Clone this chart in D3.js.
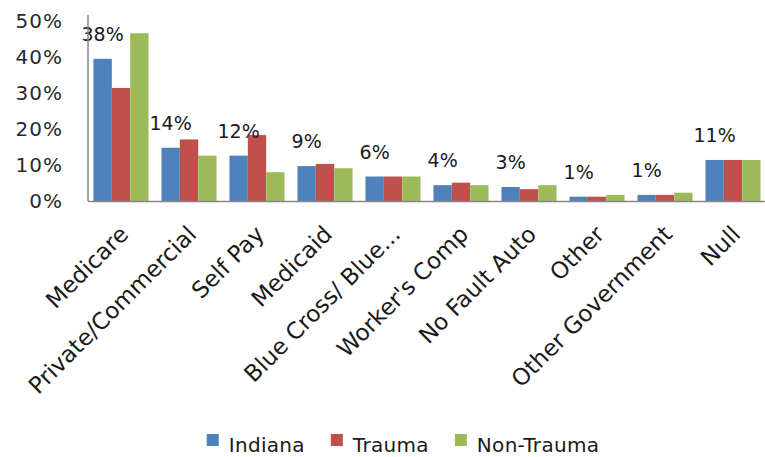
<!DOCTYPE html>
<html>
<head>
<meta charset="utf-8">
<script src="https://d3js.org/d3.v7.min.js"></script>
<style>
  body { margin: 0; background: #fff; }
  svg { display: block; }
</style>
</head>
<body>
<svg id="chart"></svg>
<script>
// categories along the x-axis
var categories = ["Medicare", "Private/Commercial", "Self Pay", "Medicaid", "Blue Cross/ Blue...",
                  "Worker's Comp", "No Fault Auto", "Other", "Other Government", "Null"];
var seriesNames = ["Indiana", "Trauma", "Non-Trauma"];
var seriesColors = ["#4f81bd", "#c0504d", "#9bbb59"];

// percentages
var indiana   = [39.5, 14.8, 12.6, 9.7, 6.8, 4.4, 3.9, 1.2, 1.7, 11.4];
var trauma    = [31.4, 17.1, 18.3, 10.3, 6.8, 5.1, 3.3, 1.2, 1.7, 11.4];
var nonTrauma = [46.6, 12.6, 8.0, 9.1, 6.8, 4.4, 4.4, 1.7, 2.3, 11.4];

// labels printed above the Indiana bar of each group
var barLabels = ["38%", "14%", "12%", "9%", "6%", "4%", "3%", "1%", "1%", "11%"];
var yTicks = [0, 10, 20, 30, 40, 50];

var seriesValues = [indiana, trauma, nonTrauma];

drawChart();

function drawChart() {
    var svgWidth = 765, svgHeight = 457;
    var font = "'DejaVu Sans', sans-serif";

    var svg = d3.select("#chart")
        .attr("width", svgWidth)
        .attr("height", svgHeight);

    var x0 = d3.scaleBand() // one band per category
        .domain(categories)
        .range([87, 767])
        .paddingInner(0.19)
        .paddingOuter(0.095);

    var x1 = d3.scaleBand() // one sub band per series inside a group
        .domain(seriesNames)
        .range([0, x0.bandwidth()]);

    var y = d3.scaleLinear()
        .domain([0, 50])
        .range([201, 21]);

    // bars
    var groups = svg.append("g")
        .selectAll("g")
        .data(categories)
        .enter().append("g")
        .attr("transform", function(d) { return "translate(" + x0(d) + ",0)"; });

    groups.selectAll("rect")
        .data(function(d, i) {
            return seriesNames.map(function(s, j) {
                return { series: s, value: seriesValues[j][i], color: seriesColors[j] };
            });
        })
        .enter().append("rect")
        .attr("x", function(d) { return x1(d.series); })
        .attr("y", function(d) { return y(d.value); })
        .attr("width", x1.bandwidth())
        .attr("height", function(d) { return y(0) - y(d.value); })
        .attr("fill", function(d) { return d.color; });

    // value labels above the Indiana bars
    svg.append("g")
        .selectAll("text")
        .data(categories)
        .enter().append("text")
        .attr("x", function(d) { return x0(d) + x1("Indiana") + x1.bandwidth() / 2; })
        .attr("y", function(d, i) { return y(indiana[i]) - 18; })
        .attr("text-anchor", "middle")
        .style("font-family", font)
        .style("font-size", "19px")
        .attr("fill", "#1a1a1a")
        .text(function(d, i) { return barLabels[i]; });

    // y-axis
    var yAxis = svg.append("g")
        .attr("transform", "translate(88,0)")
        .call(d3.axisLeft(y).tickValues(yTicks).tickSize(0).tickPadding(25)
            .tickFormat(function(d) { return d + "%"; }));
    yAxis.select(".domain").attr("stroke", "#868686").attr("stroke-width", 1.5)
        .attr("d", "M0,15V" + y(0));
    yAxis.selectAll("text")
        .style("font-family", font)
        .style("font-size", "20px")
        .style("letter-spacing", "1px")
        .attr("fill", "#2a2a2a");

    // x-axis
    var xAxis = svg.append("g")
        .attr("transform", "translate(0," + y(0) + ")")
        .call(d3.axisBottom(x0).tickSize(0).tickSizeOuter(0));
    xAxis.select(".domain").attr("stroke", "#868686").attr("stroke-width", 1.5)
        .attr("d", "M88,0.5H765");
    xAxis.selectAll(".tick text")
        .attr("text-anchor", "end")
        .attr("x", 0)
        .attr("y", 0)
        .attr("dy", "0.35em")
        .attr("transform", "translate(3,29) rotate(-45)")
        .style("font-family", font)
        .style("font-size", "23px")
        .attr("fill", "#1a1a1a");

    // legend
    var legend = svg.append("g");
    var items = legend.selectAll("g")
        .data(seriesNames)
        .enter().append("g");
    items.append("rect")
        .attr("width", 12)
        .attr("height", 12)
        .attr("y", 434)
        .attr("fill", function(d, i) { return seriesColors[i]; });
    items.append("text")
        .attr("x", 22)
        .attr("y", 452)
        .style("font-family", font)
        .style("font-size", "20px")
        .style("letter-spacing", "0.3px")
        .attr("fill", "#1a1a1a")
        .text(function(d) { return d; });

    // lay legend items out side by side, centred under the plot
    var offset = 0;
    var widths = [];
    items.each(function() {
        widths.push(22 + d3.select(this).select("text").node().getComputedTextLength());
    });
    var total = d3.sum(widths) + 26 * (widths.length - 1);
    var start = 403 - total / 2;
    items.attr("transform", function(d, i) {
        var tx = start + offset;
        offset += widths[i] + 26;
        return "translate(" + tx + ",0)";
    });
}
</script>
</body>
</html>
